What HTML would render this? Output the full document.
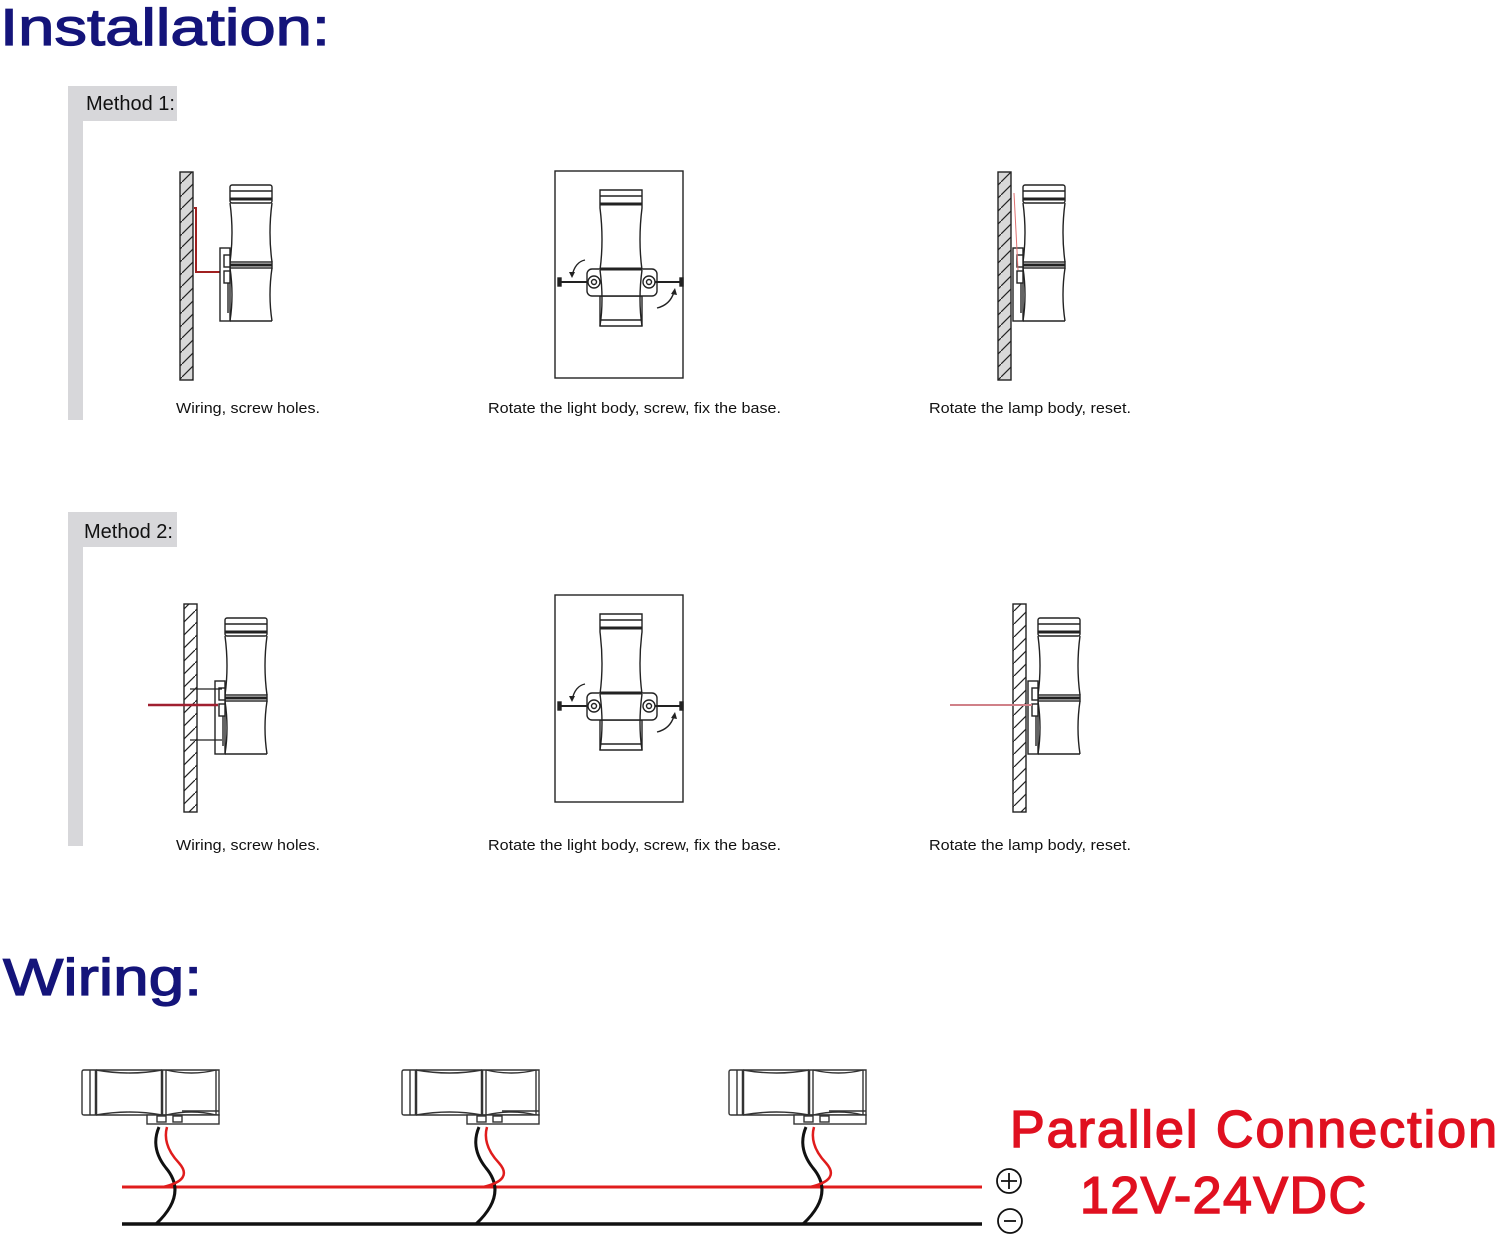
<!DOCTYPE html>
<html><head><meta charset="utf-8"><style>
html,body{margin:0;padding:0;background:#fff;}
svg{display:block;}
</style></head><body>
<svg width="1500" height="1237" viewBox="0 0 1500 1237" xmlns="http://www.w3.org/2000/svg">
<defs>
<pattern id="h" width="13" height="13" patternUnits="userSpaceOnUse">
<line x1="0" y1="13" x2="13" y2="0" stroke="#222" stroke-width="1.2"/>
</pattern>
<g id="side" fill="#fff" stroke="#222" stroke-width="1.4">
<path d="M1,0 H41 Q42,0 42,2 V136 H0 V2 Q0,0 1,0 Z" fill="#fff" stroke="none"/>
<path d="M0,18 Q4,48 0,77 M42,18 Q38,48 42,77 M0,83 Q4,110 0,136 M42,83 Q38,110 42,136 M0,136 H42" fill="none"/>
<rect x="0" y="0" width="42" height="18" rx="2"/>
<line x1="0" y1="6" x2="42" y2="6"/>
<line x1="0" y1="14" x2="42" y2="14" stroke-width="3"/>
<rect x="0" y="77" width="42" height="6"/>
<line x1="0" y1="80" x2="42" y2="80" stroke-width="3"/>
<rect x="-10" y="63" width="10" height="73"/>
<rect x="-6" y="70" width="6" height="12"/>
<rect x="-6" y="86" width="6" height="12"/>
<line x1="-2" y1="98" x2="-2" y2="128"/>
</g>
<g id="front" fill="#fff" stroke="#222" stroke-width="1.4">
<path d="M0,0 H42 V18 Q38,50 42,80 V136 H0 V80 Q4,50 0,18 Z"/>
<line x1="0" y1="6" x2="42" y2="6"/>
<line x1="0" y1="14" x2="42" y2="14" stroke-width="3"/>
<rect x="-13" y="79" width="70" height="27" rx="5"/>
<rect x="0" y="78" width="42" height="28" stroke="none"/>
<line x1="0" y1="79" x2="42" y2="79" stroke-width="3"/>
<line x1="0" y1="106" x2="42" y2="106"/>
<path d="M0,80 Q4,110 0,136 M42,80 Q38,110 42,136" fill="none"/>
<line x1="0" y1="130" x2="42" y2="130"/>
<circle cx="-6" cy="92" r="6"/><circle cx="-6" cy="92" r="2.5"/>
<circle cx="49" cy="92" r="6"/><circle cx="49" cy="92" r="2.5"/>
<line x1="-40" y1="92" x2="-12" y2="92" stroke-width="2"/>
<rect x="-42" y="88" width="3" height="8" fill="#222"/>
<line x1="55" y1="92" x2="80" y2="92" stroke-width="2"/>
<rect x="80" y="88" width="3" height="8" fill="#222"/>
<path d="M-15,70 Q-25,72 -28,86" fill="none"/><path d="M-31,82 L-28,88 L-25,82" fill="#222" stroke="none"/>
<path d="M57,118 Q70,115 74,102" fill="none"/><path d="M71,104 L75,98 L77,105" fill="#222" stroke="none"/>
</g>
<g id="wl" fill="#fff" stroke="#333" stroke-width="1.4">
<path d="M0,2 Q0,0 2,0 H137 V45 H2 Q0,45 0,43 Z"/>
<path d="M14,0 Q48,6 80,0 M14,45 Q48,39 80,45 M84,0 Q110,6 134,0 M84,45 Q110,39 134,45" fill="none"/>
<line x1="8" y1="0" x2="8" y2="45"/><line x1="14" y1="0" x2="14" y2="45" stroke-width="2.5"/>
<line x1="80" y1="0" x2="80" y2="45" stroke-width="2.5"/><line x1="84" y1="0" x2="84" y2="45"/>
<line x1="134" y1="0" x2="134" y2="45"/>
<rect x="65" y="45" width="72" height="9"/>
<rect x="75" y="46" width="9" height="6"/><rect x="91" y="46" width="9" height="6"/>
<line x1="100" y1="41" x2="137" y2="41"/>
</g>
<g id="wire">
<path d="M77,57 Q68,78 84,98 Q106,124 74,154" fill="none" stroke="#111" stroke-width="3"/>
<path d="M85,57 Q80,75 97,93 Q112,110 81,117" fill="none" stroke="#e01c1c" stroke-width="2.5"/>
</g>
</defs>

<text x="0" y="45" font-family="Liberation Sans, sans-serif" font-size="52" fill="#14147a" stroke="#14147a" stroke-width="1.2" textLength="330" lengthAdjust="spacingAndGlyphs">Installation:</text>

<!-- Method 1 -->
<path d="M68,86 H177 V121 H83 V420 H68 Z" fill="#d7d7da"/>
<text x="86" y="110" font-family="Liberation Sans, sans-serif" font-size="20" fill="#111">Method 1:</text>

<rect x="180" y="172" width="13" height="208" fill="#d8d8d8"/>
<rect x="180" y="172" width="13" height="208" fill="url(#h)" stroke="#222" stroke-width="1.4"/>
<path d="M194,208 H196 V272 H220" fill="none" stroke="#a02020" stroke-width="2"/>
<use href="#side" x="230" y="185"/>

<rect x="555" y="171" width="128" height="207" fill="#fff" stroke="#222" stroke-width="1.4"/>
<use href="#front" x="600" y="190"/>

<rect x="998" y="172" width="13" height="208" fill="#d8d8d8"/>
<rect x="998" y="172" width="13" height="208" fill="url(#h)" stroke="#222" stroke-width="1.4"/>
<use href="#side" x="1023" y="185"/>
<line x1="1014" y1="193" x2="1018" y2="270" stroke="#e07070" stroke-width="1"/>

<g font-family="Liberation Sans, sans-serif" font-size="15" fill="#111">
<text x="176" y="413" textLength="144" lengthAdjust="spacingAndGlyphs">Wiring, screw holes.</text>
<text x="488" y="413" textLength="293" lengthAdjust="spacingAndGlyphs">Rotate the light body, screw, fix the base.</text>
<text x="929" y="413" textLength="202" lengthAdjust="spacingAndGlyphs">Rotate the lamp body, reset.</text>
</g>

<!-- Method 2 -->
<path d="M68,512 H177 V547 H83 V846 H68 Z" fill="#d7d7da"/>
<text x="84" y="538" font-family="Liberation Sans, sans-serif" font-size="20" fill="#111">Method 2:</text>

<rect x="184" y="604" width="13" height="208" fill="url(#h)" stroke="#222" stroke-width="1.4"/>
<use href="#side" x="225" y="618"/>
<line x1="148" y1="705" x2="218" y2="705" stroke="#a02030" stroke-width="2.5"/>
<line x1="190" y1="689" x2="222" y2="689" stroke="#222" stroke-width="1.2"/>
<line x1="190" y1="740" x2="222" y2="740" stroke="#222" stroke-width="1.2"/>

<rect x="555" y="595" width="128" height="207" fill="#fff" stroke="#222" stroke-width="1.4"/>
<use href="#front" x="600" y="614"/>

<rect x="1013" y="604" width="13" height="208" fill="url(#h)" stroke="#222" stroke-width="1.4"/>
<use href="#side" x="1038" y="618"/>
<line x1="950" y1="705" x2="1032" y2="705" stroke="#d08088" stroke-width="2"/>

<g font-family="Liberation Sans, sans-serif" font-size="15" fill="#111">
<text x="176" y="850" textLength="144" lengthAdjust="spacingAndGlyphs">Wiring, screw holes.</text>
<text x="488" y="850" textLength="293" lengthAdjust="spacingAndGlyphs">Rotate the light body, screw, fix the base.</text>
<text x="929" y="850" textLength="202" lengthAdjust="spacingAndGlyphs">Rotate the lamp body, reset.</text>
</g>

<!-- Wiring -->
<text x="3" y="995" font-family="Liberation Sans, sans-serif" font-size="52" fill="#14147a" stroke="#14147a" stroke-width="1.2" textLength="199" lengthAdjust="spacingAndGlyphs">Wiring:</text>

<line x1="122" y1="1187" x2="982" y2="1187" stroke="#e01c1c" stroke-width="3"/>
<line x1="122" y1="1224" x2="982" y2="1224" stroke="#111" stroke-width="3.5"/>

<use href="#wl" x="82" y="1070"/><use href="#wire" x="82" y="1070"/>
<use href="#wl" x="402" y="1070"/><use href="#wire" x="402" y="1070"/>
<use href="#wl" x="729" y="1070"/><use href="#wire" x="729" y="1070"/>

<circle cx="1009" cy="1181" r="12" fill="none" stroke="#111" stroke-width="1.8"/>
<path d="M1001,1181 H1017 M1009,1173 V1189" stroke="#111" stroke-width="1.8"/>
<circle cx="1010" cy="1221" r="12" fill="none" stroke="#111" stroke-width="1.8"/>
<path d="M1004,1221 H1016" stroke="#111" stroke-width="1.8"/>

<text x="1010" y="1147" font-family="Liberation Sans, sans-serif" font-size="52" fill="#e01020" stroke="#e01020" stroke-width="1.5" textLength="487" lengthAdjust="spacing">Parallel Connection</text>
<text x="1080" y="1213" font-family="Liberation Sans, sans-serif" font-size="52" fill="#e01020" stroke="#e01020" stroke-width="1.5" textLength="286" lengthAdjust="spacing">12V-24VDC</text>
</svg>
</body></html>
